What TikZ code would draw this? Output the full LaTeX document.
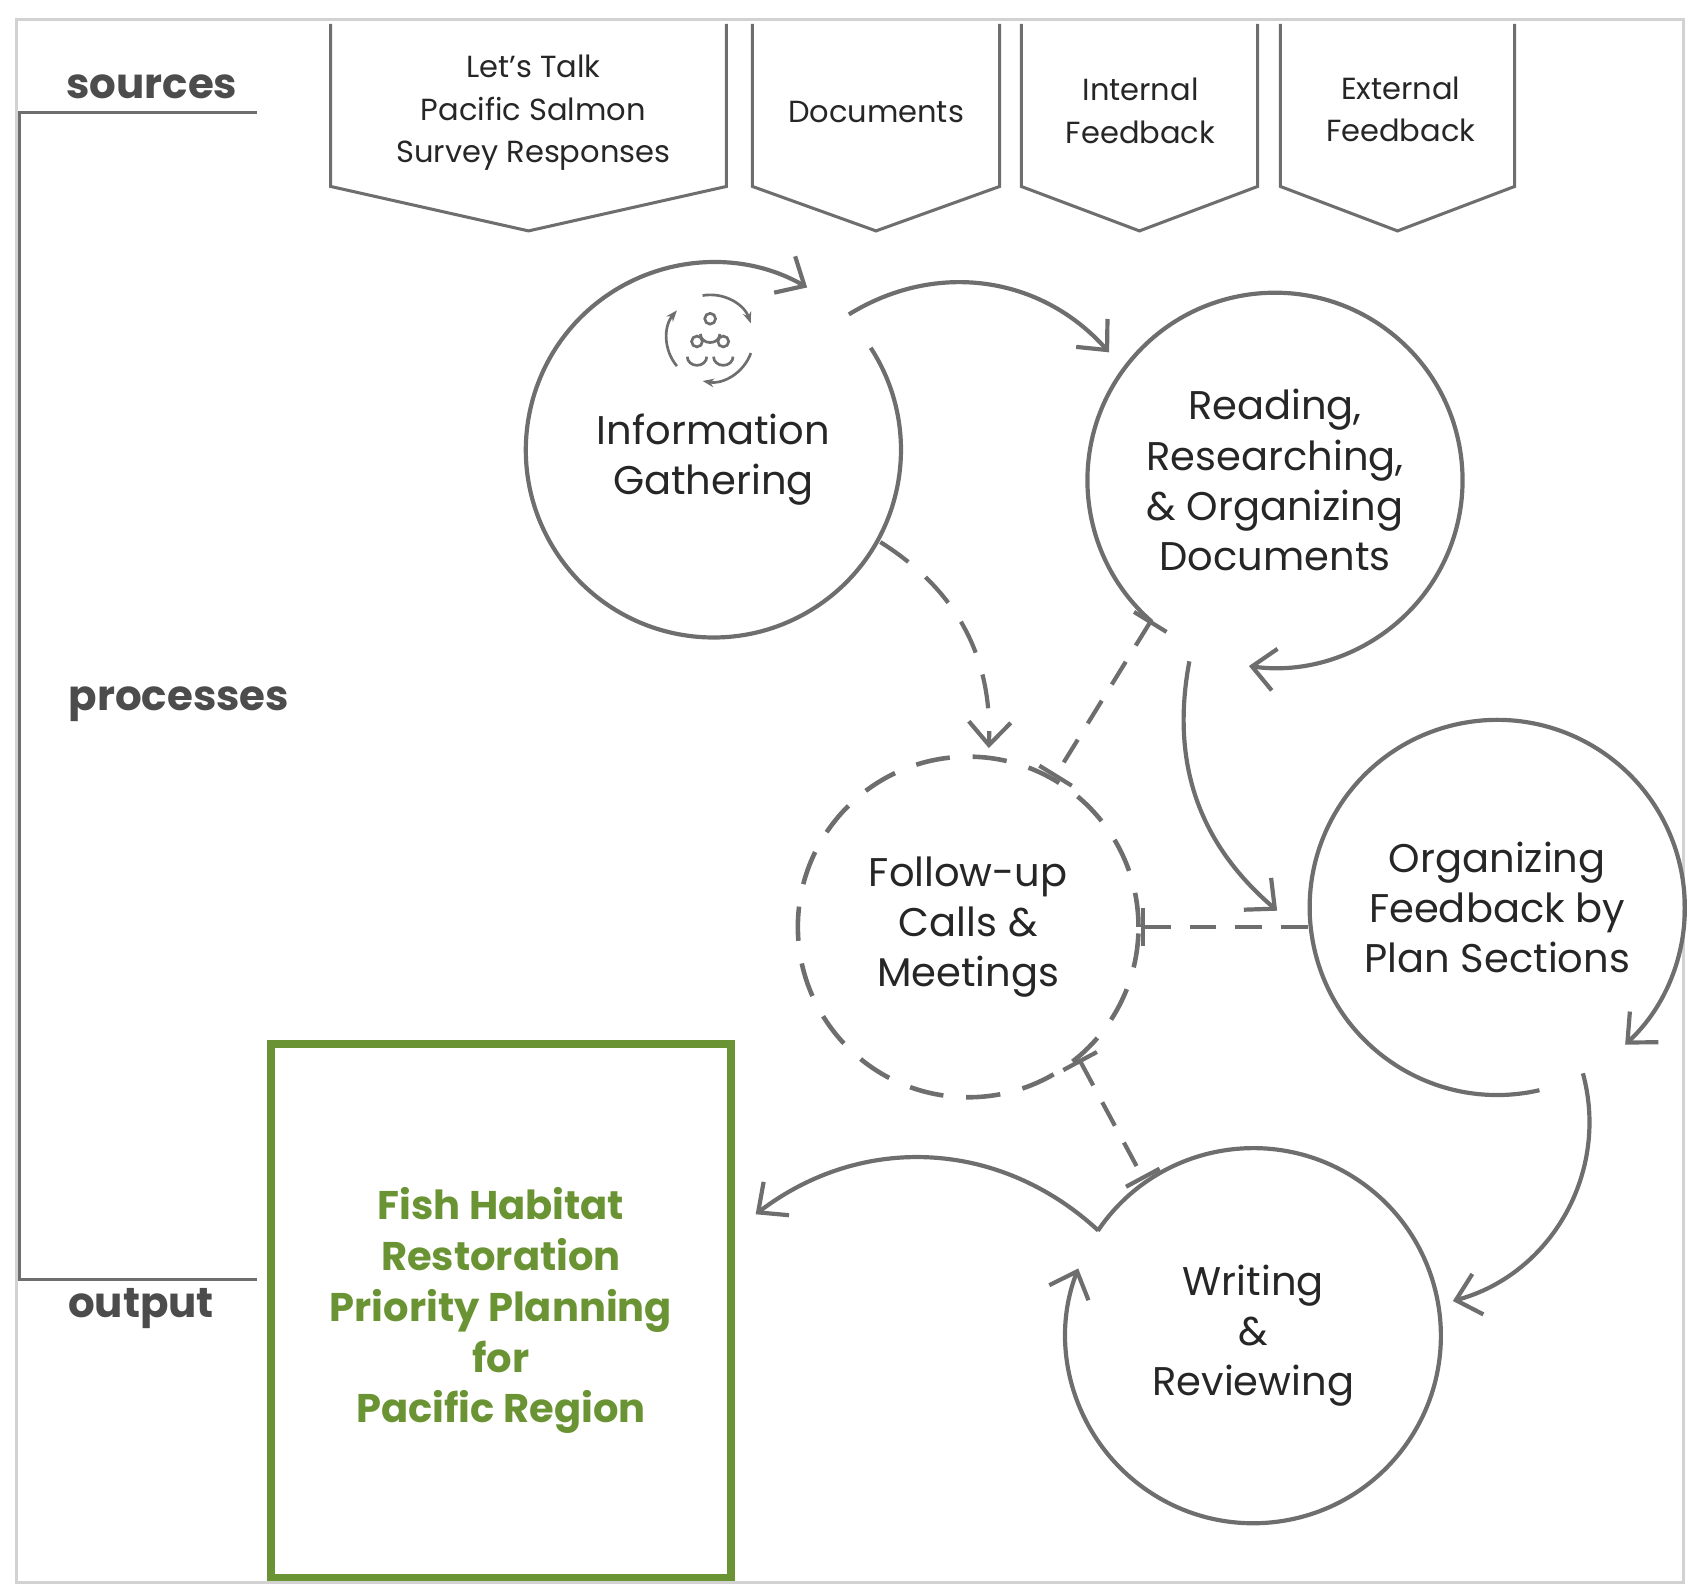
\documentclass[tikz,border=0pt]{standalone}
\usepackage{fontspec}
\setmainfont{Poppins}
\usetikzlibrary{arrows.meta}
\definecolor{linegray}{RGB}{110,110,110}
\definecolor{leaf}{RGB}{106,148,52}
\begin{document}
\begin{tikzpicture}[x=0.01cm,y=-0.01cm,thick,
                step node/.style={circle,minimum size=3.46cm,align=center,font=\fontsize{10.5}{13.2}\selectfont,text=black!85},
                source node/.style={align=center,font=\fontsize{8}{11.2}\selectfont,text=black!85},
                flow/.style={linegray,line width=1.1pt,-{Straight Barb[length=6pt,width=11pt]}},
                link/.style={linegray,line width=1.1pt,dash pattern=on 7pt off 5pt},
                tag/.style={font=\bfseries\fontsize{11}{13}\selectfont,text=black!70}]

            % frame and side labels
            \useasboundingbox (0,0) rectangle (1568,1471);
            \draw[gray!35,line width=0.8pt] (15,18) rectangle (1553,1460);
            \draw[linegray,line width=0.8pt] (237,104) -- (18,104) -- (18,1180) -- (237,1180);
            \node[tag] (src) at (140,80) {sources};
            \node[tag] (proc) at (165,650) {processes};
            \node[tag] (out) at (130,1207) {output};

            % sources
            \foreach \l/\r/\name in {305/670/s1,694/922/s2,942/1160/s3,1181/1397/s4}
                \draw[linegray,line width=0.8pt] (\l,22) -- (\l,172) -- ({(\l+\r)/2},213) -- (\r,172) -- (\r,22);
            \node[source node] (s1) at (492,104) {Let’s Talk\\Pacific Salmon\\Survey Responses};
            \node[source node] (s2) at (808,103) {Documents};
            \node[source node] (s3) at (1052,102) {Internal\\Feedback};
            \node[source node] (s4) at (1292,101) {External\\Feedback};

            % processes
            \node[step node] (info) at (658,415) {\\Information\\Gathering};
            \node[step node] (read) at (1176,443) {Reading,\\Researching,\\\& Organizing\\Documents};
            \node[step node,draw=linegray,line width=1.2pt,dash pattern=on 9pt off 6pt,minimum size=3.14cm] (call) at (893,855) {Follow-up\\Calls \&\\Meetings};
            \node[step node] (sort) at (1381,837) {Organizing\\Feedback by\\Plan Sections};
            \node[step node] (write) at (1156,1232) {Writing\\\&\\Reviewing};

            % output
            \node[draw=leaf,line width=2pt,minimum width=4.24cm,minimum height=4.92cm,align=center,
                  font=\bfseries\fontsize{10.5}{13.3}\selectfont,text=leaf] (plan) at (462,1209)
                  {Fish Habitat\\Restoration\\Priority Planning\\for\\Pacific Region};

            % icon
            \begin{scope}[shift={(655,312)},linegray,line width=0.7pt]
                \foreach \a in {90,210,330} {
                    \draw ({14*cos(\a)},{-14*sin(\a)-4}) circle (5);
                    \draw ({14*cos(\a)-9},{-14*sin(\a)+10}) arc (180:0:9 and 8);
                }
                \foreach \a in {20,140,260}
                    \draw[-{Stealth[length=3pt]}] (\a:40) arc (\a:\a+80:40);
            \end{scope}

            % open circles ending in arrows
            \draw[flow] ([shift={(-33:173)}]info.center) arc (-33:300:173);
            \draw[flow] ([shift={(131:173)}]read.center) arc (131:458:173);
            \draw[flow] ([shift={(77:173)}]sort.center) arc (77:407:173);
            \draw[flow] ([shift={(214:173)}]write.center) arc (214:561:173);

            % flow
            \draw[flow] (783,290) to[bend left=40] (1023,325);
            \draw[flow] (1097,610) to[bend right=30] (1178,840);
            \draw[flow] (1460,990) to[bend left=45] (1340,1200);
            \draw[flow] (1013,1135) to[bend right=40] (697,1120);
            \draw[flow,dash pattern=on 9pt off 6pt] (812,500) to[bend left=30] (912,690);

            % dashed links
            \draw[link,{Bar[width=10pt]}-{Bar[width=10pt]}] (1062,572) -- (call.60);
            \draw[link,{Bar[width=10pt]}-] (call.east) -- (sort.west |- call.east);
            \draw[link,{Bar[width=10pt]}-{Bar[width=10pt]}] (call.-50) -- (1055,1088);

        \end{tikzpicture}
\end{document}
